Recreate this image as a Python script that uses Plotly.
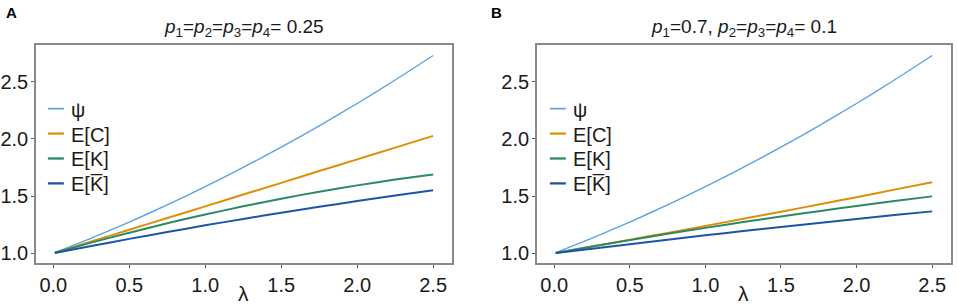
import plotly.graph_objects as go
from plotly.subplots import make_subplots

lam = [0.01, 0.25, 0.5, 0.75, 1.0, 1.25, 1.5, 1.75, 2.0, 2.25, 2.5]

# Panel A: p1=p2=p3=p4=0.25
psi_A = [1.005, 1.132, 1.273, 1.423, 1.582, 1.750, 1.927, 2.113, 2.308, 2.513, 2.727]
EC_A = [1.004, 1.103, 1.205, 1.308, 1.410, 1.513, 1.615, 1.718, 1.820, 1.923, 2.025]
EK_A = [1.004, 1.093, 1.180, 1.262, 1.339, 1.410, 1.477, 1.538, 1.593, 1.644, 1.688]
EKbar_A = [1.003, 1.064, 1.126, 1.186, 1.244, 1.300, 1.354, 1.406, 1.456, 1.505, 1.551]

# Panel B: p1=0.7, p2=p3=p4=0.1
psi_B = [1.005, 1.132, 1.273, 1.423, 1.582, 1.750, 1.927, 2.113, 2.308, 2.513, 2.727]
EC_B = [1.002, 1.059, 1.118, 1.178, 1.239, 1.301, 1.363, 1.426, 1.490, 1.556, 1.621]
EK_B = [1.002, 1.059, 1.115, 1.170, 1.222, 1.273, 1.322, 1.368, 1.413, 1.456, 1.497]
EKbar_B = [1.002, 1.040, 1.080, 1.119, 1.157, 1.194, 1.230, 1.265, 1.300, 1.334, 1.366]

names = ["ψ", "E[C]", "E[K]", "E[K\u0305]"]
colors = ["#5AA3E4", "#DE8F05", "#2B8A63", "#1C55A8"]
widths = [1.4, 2, 2, 2]

x_ticks = [0.0, 0.5, 1.0, 1.5, 2.0, 2.5]
y_ticks = [1.0, 1.5, 2.0, 2.5]
titles = [
    "<i>p</i><sub>1</sub>=<i>p</i><sub>2</sub>=<i>p</i><sub>3</sub>=<i>p</i><sub>4</sub>= 0.25",
    "<i>p</i><sub>1</sub>=0.7, <i>p</i><sub>2</sub>=<i>p</i><sub>3</sub>=<i>p</i><sub>4</sub>= 0.1",
]
panel_labels = ["A", "B"]

FONT = "Liberation Sans, Arial, Helvetica, sans-serif"
W, H = 957, 307

def px(x):
    return x / W

def py(y):
    return 1 - y / H

# plot-area pixel boxes (left, right) and (top, bottom)
xdom = [(34, 451), (536, 951)]
ytop, ybot = 45, 264

fig = make_subplots(rows=1, cols=2)

panels = [(psi_A, EC_A, EK_A, EKbar_A), (psi_B, EC_B, EK_B, EKbar_B)]
for ci, series in enumerate(panels):
    for si, ys in enumerate(series):
        fig.add_trace(go.Scatter(
            x=lam, y=ys, mode="lines", name=names[si],
            line=dict(color=colors[si], width=widths[si], shape="spline", smoothing=0.6),
            showlegend=False,
        ), row=1, col=ci + 1)

axis_common = dict(
    showgrid=False, zeroline=False, showline=True, mirror=True,
    linecolor="#8a8a8a", linewidth=1.5,
    ticks="outside", ticklen=3, tickwidth=1, tickcolor="#555555",
    tickfont=dict(family=FONT, size=20, color="#1a1a1a"),
)

fig.update_xaxes(**axis_common, range=[-0.1145, 2.6245], tickvals=x_ticks,
                 ticktext=[f"{v:.1f}" for v in x_ticks])
fig.update_yaxes(**axis_common, range=[0.914, 2.82], tickvals=y_ticks,
                 ticktext=[f"{v:.1f}" for v in y_ticks], ticklabelstandoff=-1)

fig.update_layout(
    xaxis=dict(domain=[px(xdom[0][0]), px(xdom[0][1])]),
    xaxis2=dict(domain=[px(xdom[1][0]), px(xdom[1][1])]),
    yaxis=dict(domain=[py(ybot), py(ytop)]),
    yaxis2=dict(domain=[py(ybot), py(ytop)]),
    width=W, height=H,
    margin=dict(l=0, r=0, t=0, b=0),
    paper_bgcolor="white", plot_bgcolor="white",
    font=dict(family=FONT, color="#1a1a1a"),
    showlegend=False,
)

# legends (drawn as keys + labels inside each panel)
legend_rows = [109, 134, 159, 184]
legend_x = [(46, 62, 67), (549, 565, 570)]
for ci in range(2):
    x0, x1, xt = legend_x[ci]
    for si in range(4):
        yy = legend_rows[si]
        fig.add_shape(type="line", xref="paper", yref="paper",
                      x0=px(x0), x1=px(x1), y0=py(yy), y1=py(yy),
                      line=dict(color=colors[si], width=widths[si] + 0.3))
        fig.add_annotation(text=names[si], xref="paper", yref="paper",
                           x=px(xt), y=py(yy + 1), xanchor="left", yanchor="middle",
                           showarrow=False, font=dict(family=FONT, size=20, color="#1a1a1a"))

    cx = (xdom[ci][0] + xdom[ci][1]) / 2
    fig.add_annotation(text=titles[ci], xref="paper", yref="paper", x=px(cx), y=py(28),
                       xanchor="center", yanchor="middle", showarrow=False,
                       font=dict(family=FONT, size=19, color="#1a1a1a"))
    fig.add_annotation(text="λ", xref="paper", yref="paper", x=px(cx), y=py(294),
                       xanchor="center", yanchor="middle", showarrow=False,
                       font=dict(family=FONT, size=21, color="#1a1a1a"))
    fig.add_annotation(text=f"<b>{panel_labels[ci]}</b>", xref="paper", yref="paper",
                       x=px([10, 496][ci]), y=py(12.5), xanchor="center", yanchor="middle",
                       showarrow=False, font=dict(family=FONT, size=15, color="black"))

fig.write_html("out.html", config={"displayModeBar": False},
               post_script="document.body.style.margin='0';")
